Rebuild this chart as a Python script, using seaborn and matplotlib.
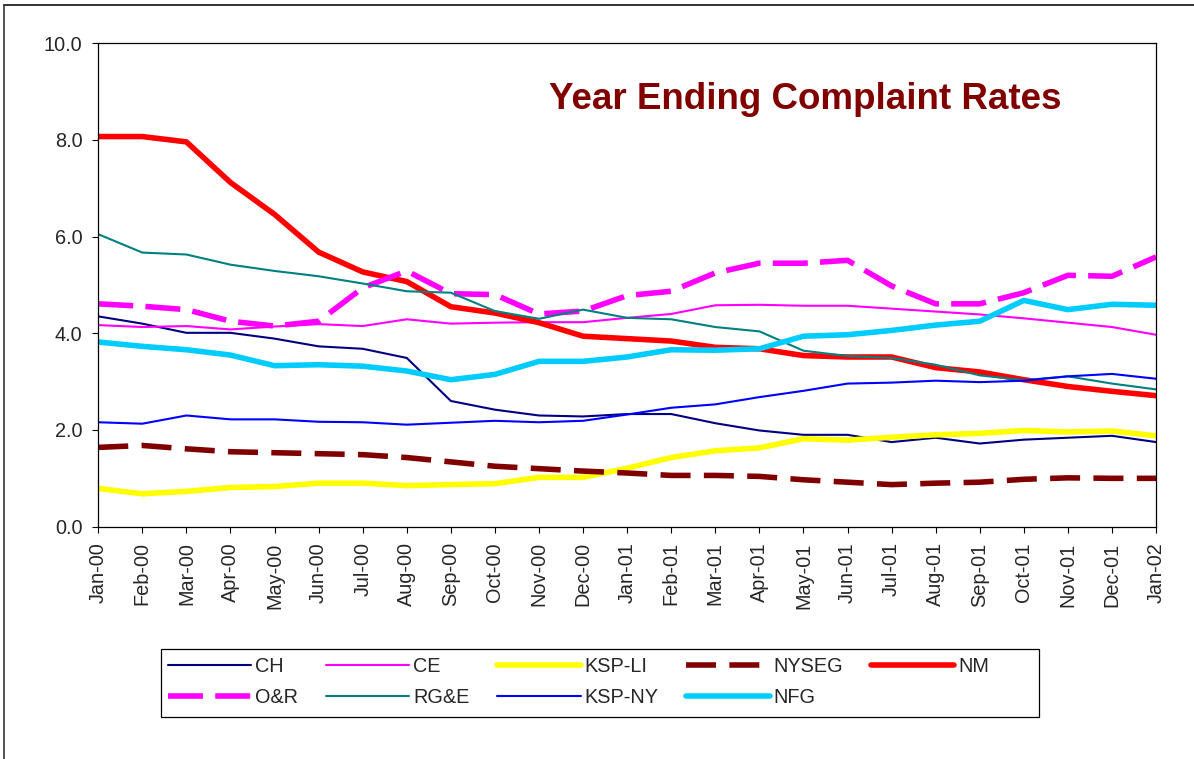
import matplotlib
matplotlib.use("Agg")
import matplotlib.pyplot as plt
from matplotlib.lines import Line2D
from matplotlib.patches import Rectangle
import seaborn as sns

months = ['Jan-00', 'Feb-00', 'Mar-00', 'Apr-00', 'May-00', 'Jun-00', 'Jul-00',
          'Aug-00', 'Sep-00', 'Oct-00', 'Nov-00', 'Dec-00', 'Jan-01', 'Feb-01',
          'Mar-01', 'Apr-01', 'May-01', 'Jun-01', 'Jul-01', 'Aug-01', 'Sep-01',
          'Oct-01', 'Nov-01', 'Dec-01', 'Jan-02']

ch = [4.35, 4.20, 4.01, 4.01, 3.89, 3.73, 3.68, 3.49, 2.60, 2.42, 2.30, 2.28, 2.33,
      2.33, 2.14, 1.99, 1.90, 1.90, 1.75, 1.84, 1.72, 1.80, 1.84, 1.88, 1.75]
ce = [4.17, 4.13, 4.15, 4.08, 4.14, 4.19, 4.15, 4.29, 4.20, 4.22, 4.23, 4.23, 4.32,
      4.40, 4.58, 4.59, 4.57, 4.57, 4.51, 4.45, 4.39, 4.31, 4.22, 4.13, 3.97]
ksp_li = [0.79, 0.68, 0.73, 0.81, 0.83, 0.90, 0.90, 0.85, 0.87, 0.89, 1.02, 1.02, 1.21,
          1.43, 1.57, 1.63, 1.82, 1.79, 1.85, 1.90, 1.93, 1.99, 1.96, 1.98, 1.88]
nyseg = [1.64, 1.68, 1.61, 1.55, 1.53, 1.51, 1.49, 1.43, 1.34, 1.25, 1.20, 1.15, 1.11,
         1.06, 1.06, 1.04, 0.97, 0.92, 0.87, 0.90, 0.92, 0.98, 1.01, 1.00, 1.00]
nm = [8.07, 8.07, 7.96, 7.12, 6.46, 5.68, 5.27, 5.07, 4.55, 4.42, 4.22, 3.94, 3.89,
      3.84, 3.71, 3.68, 3.54, 3.51, 3.51, 3.29, 3.20, 3.04, 2.90, 2.80, 2.71]
o_r = [4.61, 4.56, 4.49, 4.25, 4.15, 4.25, 4.94, 5.29, 4.82, 4.80, 4.40, 4.46, 4.78,
       4.87, 5.25, 5.45, 5.45, 5.51, 4.98, 4.61, 4.61, 4.84, 5.20, 5.18, 5.58]
rge = [6.05, 5.67, 5.63, 5.42, 5.29, 5.18, 5.03, 4.87, 4.84, 4.46, 4.30, 4.49, 4.32,
       4.29, 4.13, 4.04, 3.64, 3.53, 3.49, 3.35, 3.13, 3.03, 3.11, 2.96, 2.84]
ksp_ny = [2.16, 2.13, 2.30, 2.22, 2.22, 2.17, 2.16, 2.11, 2.15, 2.19, 2.16, 2.19, 2.32,
          2.46, 2.53, 2.68, 2.81, 2.96, 2.98, 3.02, 2.99, 3.02, 3.11, 3.16, 3.06]
nfg = [3.82, 3.73, 3.66, 3.55, 3.33, 3.35, 3.32, 3.22, 3.04, 3.15, 3.42, 3.42, 3.51,
       3.66, 3.65, 3.68, 3.94, 3.97, 4.06, 4.17, 4.25, 4.68, 4.49, 4.60, 4.58]

# name, values, colour, width, dash pattern
series = [
    ('CH', ch, '#000080', 1.5, None),
    ('CE', ce, '#FF00FF', 1.5, None),
    ('KSP-LI', ksp_li, '#FFFF00', 4.0, None),
    ('NYSEG', nyseg, '#800000', 4.0, (5.4, 2.4)),
    ('NM', nm, '#FF0000', 4.0, None),
    ('O&R', o_r, '#FF00FF', 4.0, (6.3, 2.2)),
    ('RG&E', rge, '#008080', 1.5, None),
    ('KSP-NY', ksp_ny, '#0000FF', 1.5, None),
    ('NFG', nfg, '#00CCFF', 4.0, None),
]

sns.set_style("white")
plt.rcParams['font.family'] = ['Liberation Sans', 'DejaVu Sans']

fig = plt.figure(figsize=(11.94, 7.59), dpi=100)
ax = fig.add_axes([0.0823, 0.3061, 0.8859, 0.6369])

x = list(range(len(months)))
for name, vals, color, lw, dash in series:
    ls = '-' if dash is None else (0, dash)
    sns.lineplot(x=x, y=vals, ax=ax, color=color, linewidth=lw, linestyle=ls,
                 label=name, legend=False)

ax.set_xlim(0, len(months) - 1)
ax.set_ylim(0, 10)
ax.set_xticks(x)
ax.set_xticklabels(months, rotation=90, fontsize=14.3)
ax.set_yticks([0, 2, 4, 6, 8, 10])
ax.set_yticklabels([f'{v:.1f}' for v in [0, 2, 4, 6, 8, 10]], fontsize=14.3)
ax.tick_params(axis='both', direction='out', length=4.3, width=0.8, color='black',
               pad=7, bottom=True, left=True)
for sp in ax.spines.values():
    sp.set_visible(True)
    sp.set_color('black')
    sp.set_linewidth(0.9)
ax.set_xlabel('')
ax.set_ylabel('')

fig.text(0.6742, 0.8564, 'Year Ending Complaint Rates', color='#800000',
         fontsize=26.5, fontweight='bold', ha='center', va='baseline')

# legend, row-major order like the original
handles, labels = ax.get_legend_handles_labels()
order = ['CH', 'O&R', 'CE', 'RG&E', 'KSP-LI', 'KSP-NY', 'NYSEG', 'NFG', 'NM']
lookup = dict(zip(labels, handles))
leg = fig.legend([lookup[k] for k in order], order, ncol=5, mode='expand',
                 loc='center', bbox_to_anchor=(168 / 1194, 0.102, 821 / 1194, 0.0),
                 fontsize=14.3, frameon=False, handlelength=4.2, handletextpad=0.2,
                 labelspacing=0.6, borderpad=0, borderaxespad=0)

# legend frame and outer chart border
fig.patches.append(Rectangle((161 / 1194, 1 - 717 / 759), 878 / 1194, 68 / 759,
                             transform=fig.transFigure, fill=False,
                             edgecolor='black', linewidth=0.9))
fig.lines.append(Line2D([4 / 1194, 4 / 1194], [0, 1 - 5 / 759],
                        transform=fig.transFigure, color='#333333', linewidth=1.2))
fig.lines.append(Line2D([4 / 1194, 1], [1 - 5 / 759, 1 - 5 / 759],
                        transform=fig.transFigure, color='#333333', linewidth=1.4))

fig.savefig('out.png', dpi=100, facecolor='white')
